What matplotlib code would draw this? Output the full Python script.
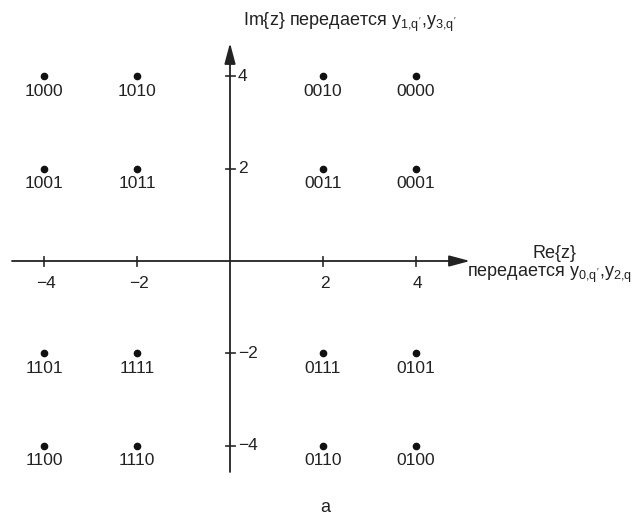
import matplotlib
matplotlib.use("Agg")
import matplotlib.pyplot as plt

plt.rcParams['font.family'] = ['Liberation Sans', 'DejaVu Sans']
plt.rcParams['mathtext.fontset'] = 'custom'
plt.rcParams['mathtext.rm'] = 'Liberation Sans'
plt.rcParams['mathtext.it'] = 'Liberation Sans'

# constellation data
re_vals = [-4, -2, 2, 4, -4, -2, 2, 4, -4, -2, 2, 4, -4, -2, 2, 4]
im_vals = [4, 4, 4, 4, 2, 2, 2, 2, -2, -2, -2, -2, -4, -4, -4, -4]
labels = ["1000", "1010", "0010", "0000",
          "1001", "1011", "0011", "0001",
          "1101", "1111", "0111", "0101",
          "1100", "1110", "0110", "0100"]
x_ticks = [-4, -2, 2, 4]
x_tick_labels = ["\u22124", "\u22122", "2", "4"]
y_ticks = [4, 2, -2, -4]
y_tick_labels = ["4", "2", "\u22122", "\u22124"]

W, H = 641, 521
fig = plt.figure(figsize=(W / 100, H / 100), dpi=100)
ax = fig.add_axes([0, 0, 1, 1])
ax.set_axis_off()

ux = 46.5
uy = 46.2
x0 = 230
y0 = 261
ax.set_xlim(-x0 / ux, (W - x0) / ux)
ax.set_ylim(-(H - y0) / uy, y0 / uy)

col = '#3a3a3a'
astyle = '-|>,head_length=0.9,head_width=0.24'
# axes with arrows
ax.annotate('', xy=((470 - x0) / ux, 0), xytext=((12 - x0) / ux, 0),
            arrowprops=dict(arrowstyle=astyle, color='#222222', lw=1.3,
                            shrinkA=0, shrinkB=0, mutation_scale=14))
ax.annotate('', xy=(0, (y0 - 43) / uy), xytext=(0, (y0 - 472) / uy),
            arrowprops=dict(arrowstyle=astyle, color='#222222', lw=1.3,
                            shrinkA=0, shrinkB=0, mutation_scale=14))

tl = 4.5
for xv, lab in zip(x_ticks, x_tick_labels):
    ax.plot([xv, xv], [-tl / uy, tl / uy], color=col, lw=1.3)
    ax.text(xv + 1.5 / ux, -22 / uy, lab, ha='center', va='center', fontsize=12.5, color='#222222')
for yv, lab in zip(y_ticks, y_tick_labels):
    ax.plot([-tl / ux, tl / ux], [yv, yv], color=col, lw=1.3)
    ax.text(8 / ux, yv, lab, ha='left', va='center', fontsize=12.5, color='#222222')

# points
ax.plot(re_vals, im_vals, 'o', color='#111111', markersize=4.5, linestyle='none')
for xv, yv, lab in zip(re_vals, im_vals, labels):
    ax.text(xv, yv - 15 / uy, lab, ha='center', va='center', fontsize=12.5, color='#222222')

# axis titles
ax.text((243 - x0) / ux, (y0 - 22) / uy,
        "Im{z} передается $\\mathrm{y}_{1{,}q'}$,$\\mathrm{y}_{3{,}q'}$",
        ha='left', va='center', fontsize=13, color='#222222')
ax.text((555 - x0) / ux, (y0 - 253) / uy, "Re{z}", ha='center', va='center',
        fontsize=13, color='#222222')
ax.text((467 - x0) / ux, (y0 - 275) / uy,
        "передается $\\mathrm{y}_{0{,}q'}$,$\\mathrm{y}_{2{,}q}$",
        ha='left', va='center', fontsize=13, color='#222222')
ax.text((325 - x0) / ux, (y0 - 507) / uy, "а", ha='center', va='center',
        fontsize=13, color='#222222')

fig.savefig("out.png", dpi=100)
